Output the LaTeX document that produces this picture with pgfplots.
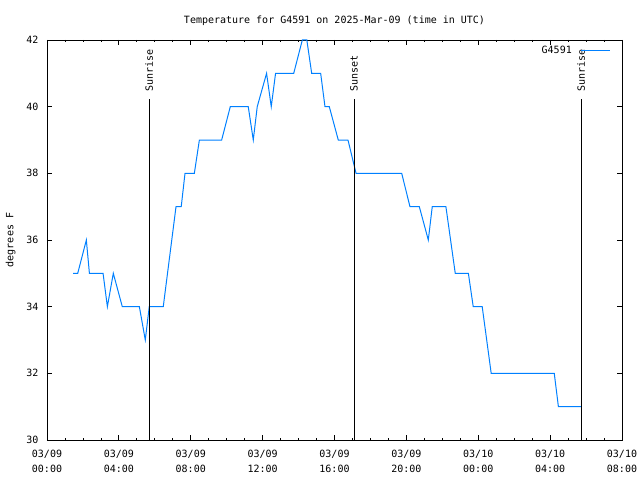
\documentclass[border=0pt]{standalone}
\usepackage{fontspec}
\setmainfont{DejaVu Sans Mono}
\usepackage{pgfplots}
\pgfplotsset{compat=1.18}
\definecolor{gblue}{RGB}{0,128,255}
\begin{document}
\fontsize{10}{11}\selectfont
\begin{tikzpicture}[x=1pt,y=1pt]
\useasboundingbox (-47,-40) rectangle (593,440);
\begin{axis}[
  at={(0,0)}, anchor=south west,
  scale only axis, width=575pt, height=400pt,
  xmin=0, xmax=32, ymin=30, ymax=42,
  xtick={0,4,...,32},
  xticklabels={{03/09\\00:00},{03/09\\04:00},{03/09\\08:00},{03/09\\12:00},{03/09\\16:00},{03/09\\20:00},{03/10\\00:00},{03/10\\04:00},{03/10\\08:00}},
  minor x tick num=3,
  ytick={30,32,...,42},
  yticklabels={30,32,34,36,38,40,42},
  x tick label style={align=center, font=\fontsize{10}{15}\selectfont, yshift=-7pt},
  y tick label style={font=\fontsize{10}{11}\selectfont, xshift=-5pt},
  major tick length=5pt, minor tick length=2.5pt,
  tick style={black, line width=0.8pt},
  axis line style={line width=0.8pt},
  title={Temperature for G4591 on 2025-Mar-09 (time in UTC)},
  title style={yshift=5pt, font=\fontsize{10}{11}\selectfont},
  ylabel={degrees F},
  ylabel style={font=\fontsize{10}{11}\selectfont, yshift=4pt},
  legend plot pos=right,
  legend style={at={(1,1)}, anchor=north east, draw=none, fill=none, xshift=-8pt, yshift=-2pt, font=\fontsize{10}{11}\selectfont},
  legend image code/.code={\path (0pt,0pt); \draw[#1] (7pt,0pt) -- (36pt,0pt);},
  clip=false,
]
\addplot[gblue, line width=1pt] coordinates {
(1.45,35) (1.71,35) (2.19,36) (2.36,35) (3.12,35) (3.36,34) (3.69,35) (4.19,34)
(5.14,34) (5.47,33) (5.69,34) (6.47,34) (7.18,37) (7.47,37) (7.68,38) (8.20,38)
(8.48,39) (9.72,39) (10.20,40) (11.20,40) (11.48,39) (11.70,40) (12.22,41) (12.48,40)
(12.72,41) (13.73,41) (14.21,42) (14.46,42) (14.73,41) (15.23,41) (15.47,40) (15.71,40)
(16.21,39) (16.75,39) (17.20,38) (19.74,38) (20.20,37) (20.72,37) (21.22,36) (21.44,37)
(22.20,37) (22.72,35) (23.45,35) (23.72,34) (24.22,34) (24.72,32) (28.23,32) (28.46,31)
(29.75,31)
};
\addlegendentry{G4591}
\addplot[black, line width=0.8pt, forget plot] coordinates {(5.69,30) (5.69,40.23)};
\addplot[black, line width=0.8pt, forget plot] coordinates {(17.08,30) (17.08,40.23)};
\addplot[black, line width=0.8pt, forget plot] coordinates {(29.72,30) (29.72,40.23)};
\node[rotate=90, anchor=west, inner sep=0pt] at (axis cs:5.69,40.45) {Sunrise};
\node[rotate=90, anchor=west, inner sep=0pt] at (axis cs:17.08,40.45) {Sunset};
\node[rotate=90, anchor=west, inner sep=0pt] at (axis cs:29.72,40.45) {Sunrise};
\end{axis}
\end{tikzpicture}
\end{document}
